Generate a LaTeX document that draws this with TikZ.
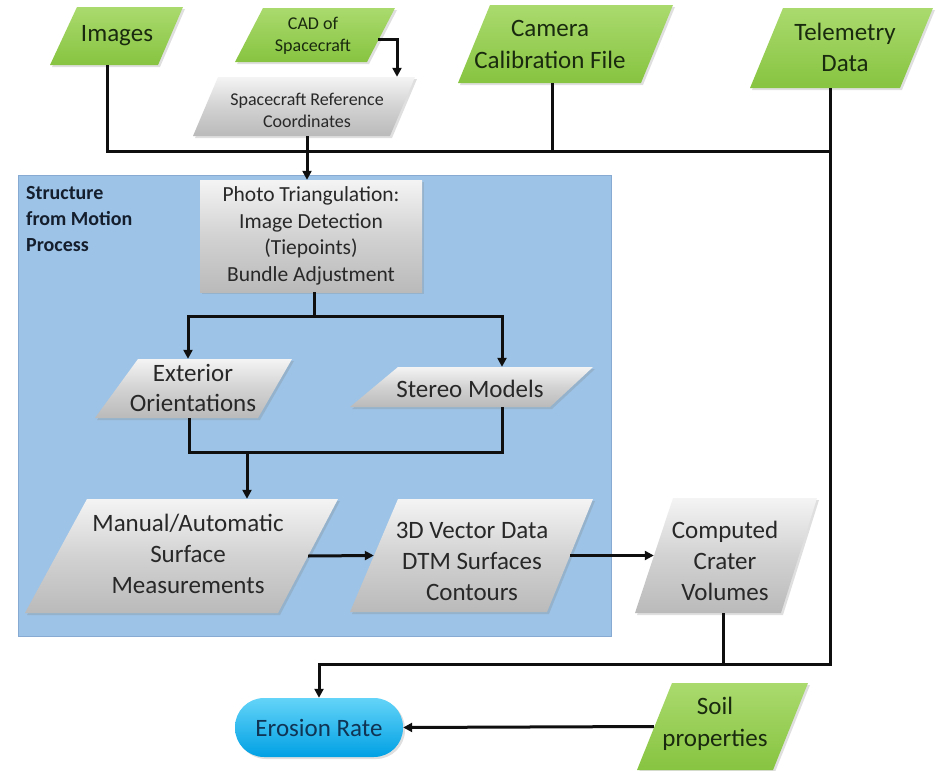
\documentclass[tikz,border=0pt]{standalone}
\usepackage{fontspec}
\setmainfont{Carlito}
\usetikzlibrary{arrows.meta,fit,shadows,calc}
\definecolor{gtop}{RGB}{170,218,110}
\definecolor{gbot}{RGB}{135,196,64}
\definecolor{gtxt}{RGB}{25,42,14}
\definecolor{stop}{RGB}{244,244,244}
\definecolor{smid}{RGB}{210,210,210}
\definecolor{sbot}{RGB}{186,186,186}
\definecolor{stxt}{RGB}{40,40,40}
\definecolor{bfill}{RGB}{157,195,230}
\definecolor{bdraw}{RGB}{135,170,210}
\definecolor{etop}{RGB}{100,212,248}
\definecolor{ebot}{RGB}{0,160,228}
\definecolor{etxt}{RGB}{16,52,84}
\definecolor{lncol}{RGB}{15,15,15}
\definecolor{sfmtxt}{RGB}{20,30,45}
\tikzset{
  shd/.style={drop shadow={opacity=0.25,shadow xshift=2pt,shadow yshift=-2pt}},
  greenshape/.style={top color=gtop,bottom color=gbot,shd},
  grayshape/.style={top color=stop,bottom color=sbot,middle color=smid,shd},
  gtext/.style={text=gtxt,align=center,inner sep=0pt},
  stext/.style={text=stxt,align=center,inner sep=0pt},
  fbig/.style={font=\fontsize{25}{31}\selectfont},
  fsmall/.style={font=\fontsize{18}{22}\selectfont},
  fmid/.style={font=\fontsize{21.5}{26.5}\selectfont},
  ln/.style={draw=lncol,line width=3pt},
  arr/.style={ln,-{Triangle[length=9pt,width=9pt]}}
}
\newcommand\mypgram[8]{%
  \shade[#2] (#3,#7) -- (#4,#7) -- (#6,#8) -- (#5,#8) -- cycle;
  \node[fit={(#5,#7) (#4,#8)},inner sep=0pt] (#1) {};}
\begin{document}
\begin{tikzpicture}[x=1pt,y=-1pt]
\useasboundingbox (0,0) rectangle (938,771);
% process frame
\node[draw=bdraw,fill=bfill,line width=0.8pt,inner sep=0pt,minimum width=593pt,minimum height=461pt] (sfm) at (314.5,405.5) {};
\node[text=sfmtxt,font=\fontsize{20}{26}\selectfont\bfseries,align=left,anchor=west,inner sep=0pt] (sfmt) at (26,219) {Structure\\from Motion\\Process};
% shapes
\mypgram{img}{greenshape}{77}{183}{50}{158}{7}{65}
\mypgram{cad}{greenshape}{263}{395}{235}{367}{8}{62}
\mypgram{src}{grayshape}{218}{415}{193}{390}{77}{136}
\mypgram{cam}{greenshape}{490}{673}{458}{641}{5}{83}
\mypgram{tel}{greenshape}{783}{933}{750}{900}{8}{88}
\mypgram{ext}{grayshape}{138}{292}{95}{258}{359}{418}
\mypgram{ste}{grayshape}{398}{593}{350}{550}{367}{407}
\mypgram{man}{grayshape}{87}{338}{25}{278}{499}{613}
\mypgram{vec}{grayshape}{398}{593}{350}{547}{499}{612}
\mypgram{com}{grayshape}{673}{817}{635}{781}{498}{613}
\mypgram{soil}{greenshape}{672}{808}{637}{773}{683}{770}
\node[grayshape,minimum width=222pt,minimum height=112pt,inner sep=0pt,text=stxt,align=center,fmid] (pt) at (311,236) {Photo Triangulation:\\Image Detection\\(Tiepoints)\\Bundle Adjustment};
\node[rounded corners=29pt,top color=etop,bottom color=ebot,minimum width=168pt,minimum height=59pt,inner sep=0pt,text=etxt,fbig,shd] (ero) at (319,727.5) {Erosion Rate};
% texts
\node[gtext,fbig] (imgt) at (117,36) {Images};
\node[gtext,fsmall] (cadt) at (313,36) {CAD of\\Spacecraft};
\node[stext,fsmall] (srct) at (307,110) {Spacecraft Reference\\Coordinates};
\node[gtext,fbig,font=\fontsize{25}{32}\selectfont] (camt) at (550,44) {Camera\\Calibration File};
\node[gtext,fbig] (telt) at (845,47) {Telemetry\\Data};
\node[stext,font=\fontsize{25}{30}\selectfont] (extt) at (193,388) {Exterior\\Orientations};
\node[stext,fbig] (stet) at (470,389) {Stereo Models};
\node[stext,fbig] (mant) at (188,554) {Manual/Automatic\\Surface\\Measurements};
\node[stext,fbig] (vect) at (472,561) {3D Vector Data\\DTM Surfaces\\Contours};
\node[stext,fbig] (comt) at (725,561) {Computed\\Crater\\Volumes};
\node[gtext,font=\fontsize{25}{32}\selectfont] (soilt) at (715,724) {Soil\\properties};
% junctions
\coordinate (jimg) at (107,151);
\coordinate (jsrc) at (307,151);
\coordinate (jcam) at (552,151);
\coordinate (jtel) at (830,151);
\coordinate (jtelb) at (830,664);
\coordinate (jcom) at (723,664);
\coordinate (jpt) at (314,316);
\coordinate (jl) at (188,316);
\coordinate (jr) at (502,316);
\coordinate (jl2) at (189,452);
\coordinate (jr2) at (502,452);
\coordinate (jm) at (247,452);
% connectors
\draw[ln] (img.south -| jimg) -- (jimg) -- (jtel);
\draw[ln] (cam.south -| jcam) -- (jcam);
\draw[arr] (tel.south -| jtel) -- (jtelb) -- (jtelb -| ero.north) -- (ero.north);
\draw[ln] (com.south -| jcom) -- (jcom);
\draw[ln] (src.south -| jsrc) -- (jsrc);
\draw[arr] (jsrc) -- (pt.north -| jsrc);
\draw[arr] ([xshift=-17pt,yshift=-4pt]cad.east) -| ([xshift=93pt]src.north);
\draw[ln] (pt.south -| jpt) -- (jpt);
\draw[arr] (jr) -- (jl) -- (ext.north -| jl);
\draw[arr] (jl) -- (jr) -- (ste.north -| jr);
\draw[ln] (ext.south -| jl2) -- (jl2) -- (jr2) -- (ste.south -| jr2);
\draw[arr] (jm) -- (man.north -| jm);
\draw[arr] ([xshift=-30pt]man.east) -- ([xshift=24pt]vec.west);
\draw[arr] ([xshift=-23pt]vec.east) -- ([xshift=19pt]com.west);
\draw[arr] ([xshift=17pt]soil.west) -- (ero.east);
\end{tikzpicture}
\end{document}
